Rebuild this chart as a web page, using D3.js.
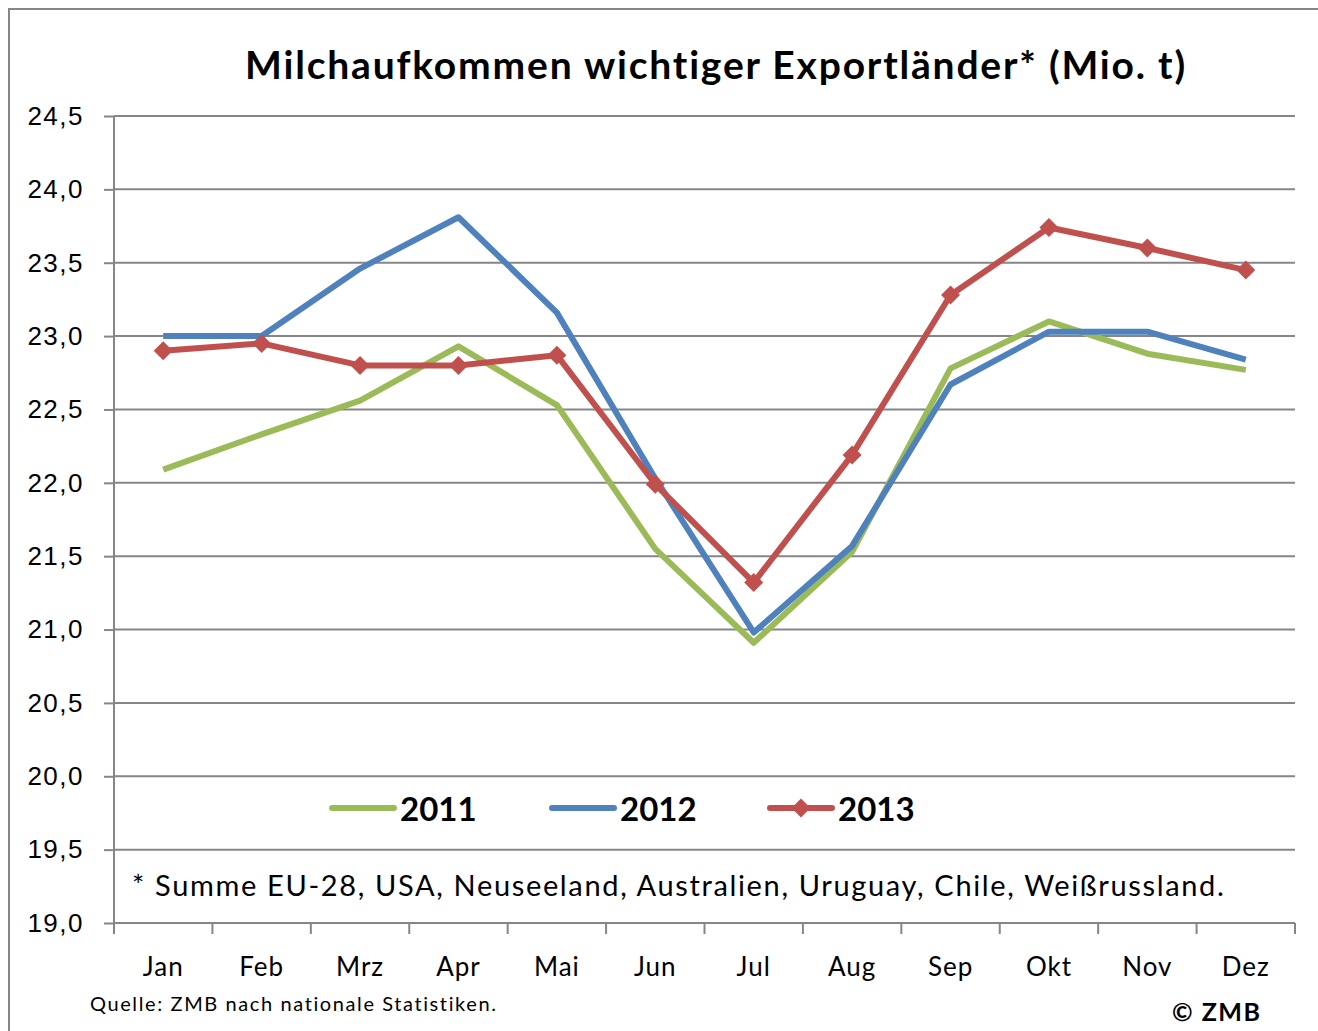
<!DOCTYPE html>
<html>
<head>
<meta charset="utf-8">
<script src="https://cdn.jsdelivr.net/npm/d3@7"></script>
<style>
  body { margin: 0; background: #fff; }
  svg { display: block; font-family: Lato, "Open Sans", sans-serif; }
  .grid line { stroke: #868686; stroke-width: 2; }
  .axis path, .axis line { stroke: #868686; stroke-width: 2; }
  .axis text { fill: #000; font-size: 26px; }
  .y.axis text { letter-spacing: 1.5px; }
  .x.axis text { letter-spacing: 1px; }
</style>
</head>
<body>
<svg class="milk-chart"></svg>
<script>
var months = ["Jan", "Feb", "Mrz", "Apr", "Mai", "Jun", "Jul", "Aug", "Sep", "Okt", "Nov", "Dez"];
var yTicks = [19.0, 19.5, 20.0, 20.5, 21.0, 21.5, 22.0, 22.5, 23.0, 23.5, 24.0, 24.5];
var v2011 = [22.09, 22.33, 22.56, 22.93, 22.53, 21.55, 20.91, 21.53, 22.78, 23.10, 22.88, 22.77];
var v2012 = [23.00, 23.00, 23.46, 23.81, 23.16, 22.03, 20.98, 21.57, 22.67, 23.03, 23.03, 22.84];
var v2013 = [22.90, 22.95, 22.80, 22.80, 22.87, 21.99, 21.32, 22.19, 23.28, 23.74, 23.60, 23.45];

var series = [
  {name: "2011", values: v2011, color: "#9BBB59", marker: false},
  {name: "2012", values: v2012, color: "#4F81BD", marker: false},
  {name: "2013", values: v2013, color: "#C0504D", marker: true}
];

var W = 1318, H = 1031;
var margin = {top: 116, right: 23, bottom: 108, left: 114};
var width = W - margin.left - margin.right;
var height = H - margin.top - margin.bottom;

var svg = d3.select(".milk-chart").attr("width", W).attr("height", H);

// outer frame
svg.append("rect")
  .attr("x", 9).attr("y", 9)
  .attr("width", W + 20).attr("height", H + 20)
  .attr("fill", "none").attr("stroke", "#868686").attr("stroke-width", 2);

var x = d3.scaleBand().domain(months).range([0, width]);
var y = d3.scaleLinear().domain([19, 24.5]).range([height, 0]);

var chart = svg.append("g")
  .attr("transform", "translate(" + margin.left + "," + margin.top + ")");

chart.append("g")
  .attr("class", "grid")
  .selectAll("line")
  .data(yTicks.slice(1))
  .enter().append("line")
  .attr("x1", 0).attr("x2", width)
  .attr("y1", function(d) { return y(d); })
  .attr("y2", function(d) { return y(d); });

var yAxis = d3.axisLeft(y).tickValues(yTicks).tickSize(10).tickPadding(20)
  .tickFormat(function(d) { return d3.format(".1f")(d).replace(".", ","); });

chart.append("g")
  .attr("class", "y axis")
  .call(yAxis)
  .call(function(g) { g.select(".domain").attr("d", "M0," + height + "V0"); });

// x axis with ticks at category boundaries
var xAxisG = chart.append("g")
  .attr("class", "x axis")
  .attr("transform", "translate(0," + height + ")");

xAxisG.append("line")
  .attr("x1", 0).attr("x2", width).attr("y1", 0).attr("y2", 0);

xAxisG.selectAll(".bound")
  .data(months.concat(["end"]))
  .enter().append("line")
  .attr("class", "bound")
  .attr("x1", function(d, i) { return i * x.step(); })
  .attr("x2", function(d, i) { return i * x.step(); })
  .attr("y1", 0).attr("y2", 11);

xAxisG.selectAll(".lbl")
  .data(months)
  .enter().append("text")
  .attr("class", "lbl")
  .attr("x", function(d) { return x(d) + x.bandwidth() / 2; })
  .attr("y", 53)
  .attr("text-anchor", "middle")
  .text(function(d) { return d; });

var line = d3.line()
  .x(function(d, i) { return x(months[i]) + x.bandwidth() / 2; })
  .y(function(d) { return y(d); });

var diamond = d3.symbol().type(d3.symbolSquare).size(180);

series.forEach(function(s) {
  chart.append("path")
    .datum(s.values)
    .attr("fill", "none")
    .attr("stroke", s.color)
    .attr("stroke-width", 6)
    .attr("stroke-linejoin", "round")
    .attr("d", line);
  if (s.marker) {
    chart.selectAll(".mk")
      .data(s.values)
      .enter().append("path")
      .attr("class", "mk")
      .attr("transform", function(d, i) {
        return "translate(" + (x(months[i]) + x.bandwidth() / 2) + "," + y(d) + ") rotate(45)";
      })
      .attr("d", diamond)
      .attr("fill", s.color);
  }
});

// legend
var legendX = [330, 550, 768];
series.forEach(function(s, i) {
  var g = svg.append("g").attr("transform", "translate(" + legendX[i] + ",808)");
  g.append("line")
    .attr("x1", 2).attr("x2", 64).attr("y1", 0).attr("y2", 0)
    .attr("stroke", s.color).attr("stroke-width", 6).attr("stroke-linecap", "round");
  if (s.marker) {
    g.append("path").attr("transform", "translate(33,0) rotate(45)").attr("d", diamond).attr("fill", s.color);
  }
  g.append("text")
    .attr("x", 70).attr("y", 13)
    .style("font-size", "33px").style("font-weight", "bold")
    .text(s.name);
});

// title
svg.append("text")
  .attr("x", 716).attr("y", 79)
  .attr("text-anchor", "middle")
  .style("font-size", "39px").style("font-weight", "bold")
  .style("letter-spacing", "1.8px")
  .text("Milchaufkommen wichtiger Exportländer* (Mio. t)");

svg.append("text")
  .attr("x", 132).attr("y", 896)
  .style("font-size", "29px").style("letter-spacing", "1.65px")
  .text("* Summe EU-28, USA, Neuseeland, Australien, Uruguay, Chile, Weißrussland.");

svg.append("text")
  .attr("x", 90).attr("y", 1011)
  .style("font-size", "20px").style("letter-spacing", "1.6px")
  .text("Quelle: ZMB nach nationale Statistiken.");

svg.append("text")
  .attr("x", 1172).attr("y", 1021)
  .style("font-size", "25px").style("font-weight", "bold").style("letter-spacing", "1.5px")
  .text("© ZMB");
</script>
</body>
</html>
